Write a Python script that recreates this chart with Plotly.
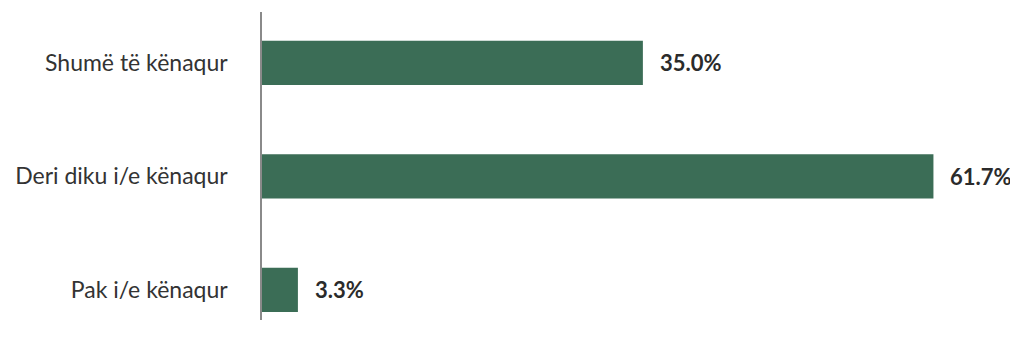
import plotly.graph_objects as go

categories = ["Shumë të kënaqur", "Deri diku i/e kënaqur", "Pak i/e kënaqur"]
values = [35.0, 61.7, 3.3]
value_labels = ["35.0%", "61.7%", "3.3%"]

bar_color = "#3b6d56"
font_family = "Lato, 'Open Sans', sans-serif"

fig = go.Figure()
fig.add_trace(go.Bar(
    y=categories,
    x=values,
    orientation="h",
    marker=dict(color=bar_color, line=dict(width=0)),
    width=0.39,
    hoverinfo="skip",
))

for cat, v, lab in zip(categories, values, value_labels):
    fig.add_annotation(
        x=v, y=cat, text=f"<b>{lab}</b>", showarrow=False,
        xanchor="left", xshift=15,
        font=dict(family=font_family, size=22, color="#2b2b2b"),
    )

fig.update_layout(
    width=1018, height=346,
    margin=dict(l=254, r=24, t=4, b=34),
    paper_bgcolor="white", plot_bgcolor="white",
    showlegend=False,
    font=dict(family=font_family, size=23, color="#333333"),
    xaxis=dict(range=[0, 68], visible=False, showgrid=False, zeroline=False),
    yaxis=dict(
        type="category",
        range=[2.266, -0.448],
        showline=True, linecolor="#8a8a8a", linewidth=1.5,
        showgrid=False, zeroline=False,
        ticks="", ticklabelstandoff=28,
        tickfont=dict(family=font_family, size=23, color="#333333"),
    ),
)

fig.write_html("out.html")
